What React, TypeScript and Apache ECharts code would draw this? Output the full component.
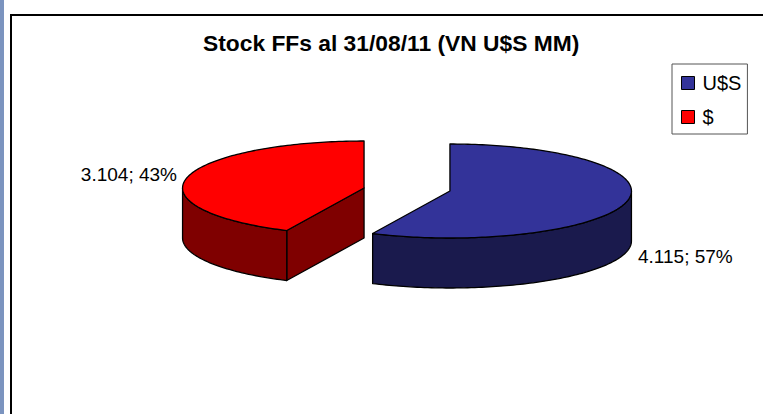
import React, { useEffect, useRef } from "react";
import * as echarts from "echarts";

const categories = ["U$S", "$"];
const values = [4115, 3104];
const topColors = ["#333399", "#ff0000"];
const wallColors = ["#1a1a4d", "#7f0000"];
const titleText = "Stock FFs al 31/08/11 (VN U$S MM)";

const CX = 407;
const CY = 189.5;
const RX = 181.5;
const RY = 47;
const DEPTH = 50;
const EXPLODE = 44;
const EXPLODE_Y = 0.156;
const LABEL_POS = [
  { x: 638, y: 256, align: "left" },
  { x: 177, y: 174, align: "right" },
];

const total = values.reduce((a, b) => a + b, 0);
const fmt = (v: number) => String(v).replace(/(\d)(\d{3})$/, "$1.$2");

function pt(cx: number, cy: number, a: number) {
  return [cx + RX * Math.sin(a), cy - RY * Math.cos(a)];
}
function arc(cx: number, cy: number, a0: number, a1: number) {
  const n = Math.max(2, Math.ceil(Math.abs(a1 - a0) / 0.02));
  const out: number[][] = [];
  for (let i = 0; i <= n; i++) out.push(pt(cx, cy, a0 + ((a1 - a0) * i) / n));
  return out;
}

function makeRender(idx: number) {
  return (_params: any, api: any) => {
    const v = api.value(0);
    let before = 0;
    for (let i = 0; i < idx; i++) before += values[i];
    const a0 = (before / total) * Math.PI * 2;
    const a1 = a0 + (v / total) * Math.PI * 2;
    const mid = (a0 + a1) / 2;
    const cx = CX + EXPLODE * Math.sin(mid);
    const cy = CY - EXPLODE * EXPLODE_Y * Math.cos(mid);
    const stroke = { stroke: "#000", lineWidth: 1.3, lineJoin: "round" };
    const children: any[] = [];
    const wall = { fill: wallColors[idx], ...stroke };
    const frontFrom = Math.max(a0, Math.PI / 2);
    const frontTo = Math.min(a1, Math.PI * 1.5);
    // inner cut face at the slice's start, visible when it faces the viewer
    if (a0 > Math.PI && a0 < Math.PI * 2) {
      const p = pt(cx, cy, a0);
      children.push({
        type: "polygon",
        shape: { points: [[cx, cy], p, [p[0], p[1] + DEPTH], [cx, cy + DEPTH]] },
        style: wall,
      });
    }
    if (frontTo > frontFrom) {
      const top = arc(cx, cy, frontFrom, frontTo);
      const bottom = top.map((p) => [p[0], p[1] + DEPTH]).reverse();
      children.push({ type: "polygon", shape: { points: [...top, ...bottom] }, style: wall });
    }
    children.push({
      type: "polygon",
      shape: { points: [[cx, cy], ...arc(cx, cy, a0, a1)] },
      style: { fill: topColors[idx], ...stroke },
    });
    const pos = LABEL_POS[idx];
    children.push({
      type: "text",
      style: {
        x: pos.x,
        y: pos.y,
        text: `${fmt(v)}; ${Math.round((v / total) * 100)}%`,
        fill: "#000",
        font: '19px "Liberation Sans"',
        align: pos.align,
        verticalAlign: "middle",
      },
    });
    return { type: "group", children };
  };
}

export default function App() {
  const ref = useRef<HTMLDivElement>(null);
  useEffect(() => {
    const chart = echarts.init(ref.current!, undefined, { renderer: "svg" });
    chart.setOption({
      animation: false,
      backgroundColor: "#fff",
      title: {
        text: titleText,
        left: 203,
        top: 31,
        padding: 0,
        textStyle: { fontFamily: "Liberation Sans", fontWeight: "bold", fontSize: 22.8, color: "#000" },
      },
      legend: {
        left: 672,
        top: 64,
        orient: "vertical",
        align: "left",
        data: categories,
        icon: "rect",
        itemWidth: 13,
        itemHeight: 13,
        itemGap: 14,
        padding: [9, 6, 7, 9],
        borderColor: "#555",
        borderWidth: 1,
        textStyle: { fontFamily: "Liberation Sans", fontSize: 20, color: "#000", padding: [0, 0, 0, 3] },
        itemStyle: { borderColor: "#000", borderWidth: 1 },
      },
      graphic: [
        { type: "rect", shape: { x: 0, y: 0, width: 4, height: 414 }, style: { fill: "#7b94bf" } },
        { type: "rect", shape: { x: 10, y: 14, width: 2, height: 400 }, style: { fill: "#000" } },
        { type: "rect", shape: { x: 10, y: 14, width: 753, height: 2 }, style: { fill: "#000" } },
      ],
      series: categories.map((name, i) => ({
        type: "custom",
        name,
        coordinateSystem: "none",
        itemStyle: { color: topColors[i] },
        renderItem: makeRender(i),
        data: [[values[i]]],
        silent: true,
      })),
    });
    return () => chart.dispose();
  }, []);
  return (
    <div
      ref={ref}
      style={{ position: "fixed", left: 0, top: 0, width: 763, height: 414 }}
    />
  );
}
